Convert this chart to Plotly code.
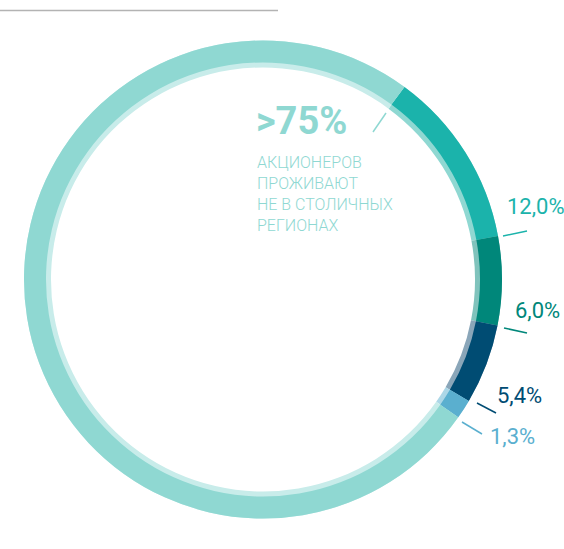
import plotly.graph_objects as go

W, H = 564, 549

# доли акционеров, %
shares = [12.0, 6.0, 5.4, 1.3, 75.3]
outer_colors = ["#1bb3ab", "#00877a", "#004c73", "#5aafcf", "#8fd8d2"]
inner_colors = ["#8fd8d2", "#80c3bc", "#8aa6b9", "#acd7e7", "#c8ecea"]
label_colors = ["#1bb3ab", "#00877a", "#004c73", "#5aafcf"]

headline = ">75%"
caption = ["АКЦИОНЕРОВ", "ПРОЖИВАЮТ", "НЕ В СТОЛИЧНЫХ", "РЕГИОНАХ"]


def px(x):
    return x / W


def py(y):
    return 1 - y / H


cx, cy, r = 263, 279.5, 239
dom_x = [px(cx - r), px(cx + r)]
dom_y = [py(cy + r), py(cy - r)]

fig = go.Figure()

# тонкое внутреннее кольцо
fig.add_trace(go.Pie(
    values=shares,
    marker=dict(colors=inner_colors, line=dict(width=0)),
    hole=212 / r,
    sort=False,
    direction="clockwise",
    rotation=36.3,
    textinfo="none",
    hoverinfo="skip",
    domain=dict(x=dom_x, y=dom_y),
))

# основное кольцо
fig.add_trace(go.Pie(
    values=shares,
    marker=dict(colors=outer_colors, line=dict(width=0)),
    hole=217 / r,
    sort=False,
    direction="clockwise",
    rotation=36.3,
    textinfo="none",
    hoverinfo="skip",
    domain=dict(x=dom_x, y=dom_y),
))

label_pos = [(505, 206), (513, 310), (495, 395), (488, 436)]
for v, (x, y), c in zip(shares[:4], label_pos, label_colors):
    fig.add_annotation(
        x=px(x), y=py(y), xref="paper", yref="paper",
        xanchor="left", yanchor="middle", showarrow=False,
        text=f"{v:.1f}".replace(".", ",") + "%",
        font=dict(family="Roboto", size=22, color=c),
    )

leaders = [
    ((503, 236), (527, 231), label_colors[0]),
    ((504, 328), (527, 333), label_colors[1]),
    ((477, 403), (496, 413), label_colors[2]),
    ((462, 422), (482, 434), label_colors[3]),
    ((373, 132), (386, 113), "#8fd8d2"),
]
for (x0, y0), (x1, y1), c in leaders:
    fig.add_shape(
        type="line", xref="paper", yref="paper",
        x0=px(x0), y0=py(y0), x1=px(x1), y1=py(y1),
        line=dict(color=c, width=1.5),
    )

fig.add_shape(
    type="line", xref="paper", yref="paper",
    x0=0, y0=py(10.5), x1=px(278), y1=py(10.5),
    line=dict(color="#b3b3b3", width=1.5),
)

fig.add_annotation(
    x=px(254), y=py(121), xref="paper", yref="paper",
    xanchor="left", yanchor="middle", showarrow=False,
    text=headline,
    font=dict(family="Roboto", size=38, color="#8fd8d2", weight="bold"),
)

for i, line in enumerate(caption):
    fig.add_annotation(
        x=px(255), y=py(162 + i * 21.2), xref="paper", yref="paper",
        xanchor="left", yanchor="middle", showarrow=False,
        text=line,
        font=dict(family="Roboto", size=16, color="#8fd8d2", weight=300),
    )

fig.update_layout(
    width=W,
    height=H,
    margin=dict(l=0, r=0, t=0, b=0),
    paper_bgcolor="white",
    plot_bgcolor="white",
    showlegend=False,
)

fig.write_html(
    "out.html",
    config={"displayModeBar": False},
    post_script="document.body.style.margin='0px';",
)
